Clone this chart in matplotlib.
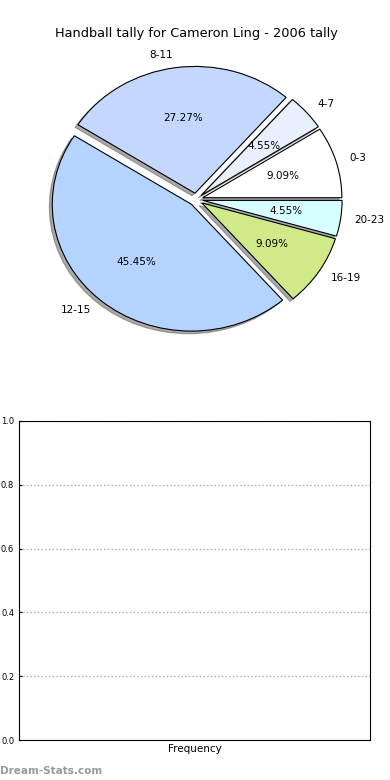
import numpy as np
import matplotlib.pyplot as plt

# hours buckets and tally counts
labels = ['0-3', '4-7', '8-11', '12-15', '16-19', '20-23']
counts = [2, 1, 6, 10, 2, 1]
colors = ['#ffffff', '#e8f0ff', '#c4d8ff', '#b4d4ff', '#d0ea8a', '#d8ffff']
explode = [0.05, 0.05, 0.05, 0.05, 0.05, 0.05]

title = 'Handball tally for Cameron Ling - 2006 tally'

fig = plt.figure(figsize=(3.9, 7.8), dpi=100)

# top: pie chart (old-style, not forced circular)
ax1 = fig.add_axes([22/390, 1 - 358/780, 348/390, 317/780])
wedges, texts, autotexts = ax1.pie(counts, labels=labels, colors=colors, explode=explode,
                                   autopct='%.2f%%', startangle=0,
                                   shadow={'ox': -0.015, 'oy': -0.015,
                                           'facecolor': '#555555', 'edgecolor': '#555555'},
                                   wedgeprops={'edgecolor': 'black', 'linewidth': 0.8},
                                   textprops={'fontsize': 7.5})
ax1.set_aspect('auto')
ax1.set_xlim(-1.25, 1.25)
ax1.set_ylim(-1.25, 1.25)
ax1.set_title(title, fontsize=9.3, pad=3)

# bottom: empty frequency panel
ax2 = fig.add_axes([19/390, 1 - 740/780, 351/390, 319/780])
ax2.set_ylim(0, 1)
ax2.set_xticks([])
ax2.set_yticks(np.arange(0, 1.01, 0.2))
ax2.tick_params(axis='y', labelsize=6, length=2, direction='in')
ax2.yaxis.grid(True, linestyle=':', color='#aaaaaa', linewidth=1)
ax2.set_axisbelow(True)
ax2.set_xlabel('Frequency', fontsize=7.5, labelpad=3)

fig.text(0.0, 0.005, 'Dream-Stats.com', fontsize=7.5, color='#999999', fontweight='bold', va='bottom', ha='left')

fig.savefig('out.png', dpi=100)
